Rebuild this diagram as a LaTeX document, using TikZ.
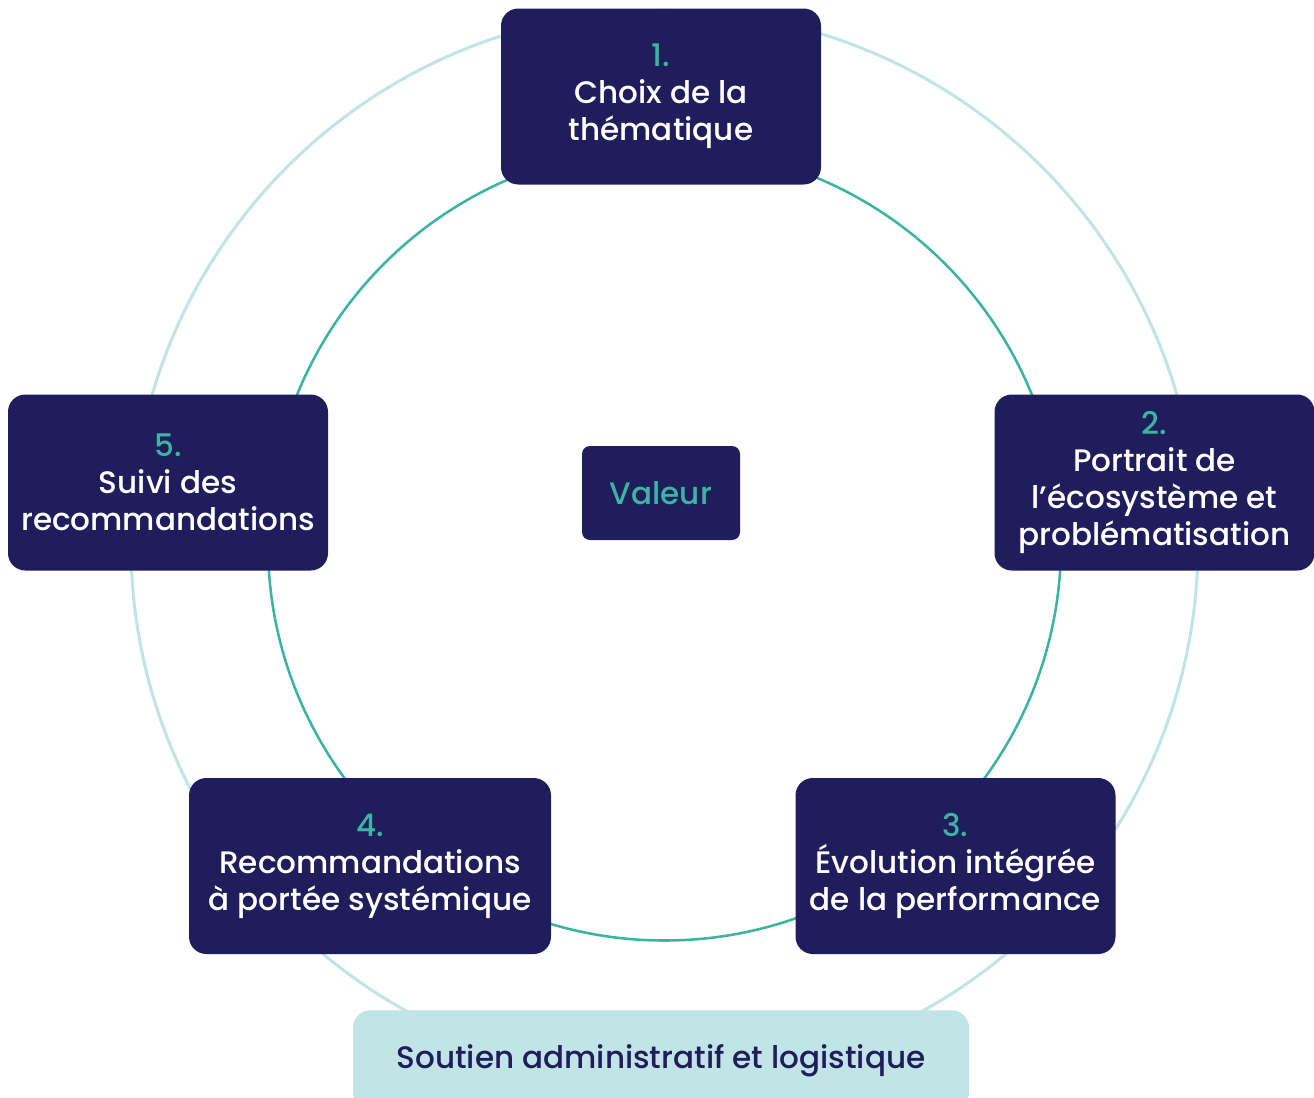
\documentclass[tikz,border=0pt]{standalone}
\usepackage{fontspec}
\setmainfont{Poppins}[UprightFont={* Medium}]
\definecolor{navy}{HTML}{1F1D5B}
\definecolor{tealc}{HTML}{3CB4A3}
\definecolor{lightc}{HTML}{C1E4E6}
\begin{document}
\begin{tikzpicture}[x=0.75pt,y=-0.75pt,
  stepbox/.style={fill=navy, rounded corners=13pt, minimum width=240pt, minimum height=132pt,
    text=white, align=center, font=\fontsize{23.3pt}{27.75pt}\selectfont, inner sep=0pt},
  num/.style={text=tealc}]
\useasboundingbox (0,0) rectangle (1314,1097);
\fill[white] (0,0) rectangle (1314,1097);
\coordinate (c) at (664.5,544);
\draw[lightc, line width=2.3pt] (c) circle[radius=533.5];
\draw[tealc, line width=1.9pt] (c) circle[radius=396.5];
\node[stepbox] (s1) at (661,96.5) {\textcolor{tealc}{1.}\\Choix de la\\thématique};
\node[stepbox] (s2) at (1154.5,482.5) {\textcolor{tealc}{2.}\\Portrait de\\l’écosystème et\\problématisation};
\node[stepbox] (s3) at (955.5,866) {\textcolor{tealc}{3.}\\Évolution intégrée\\de la performance};
\node[stepbox, minimum width=271.5pt] (s4) at (370,866) {\textcolor{tealc}{4.}\\Recommandations\\à portée systémique};
\node[stepbox] (s5) at (168,482.5) {\textcolor{tealc}{5.}\\Suivi des\\recommandations};
\node[fill=navy, rounded corners=6pt, minimum width=118.5pt, minimum height=70.5pt, inner sep=0pt,
  text=tealc, font=\fontsize{23.3pt}{24pt}\selectfont] (v) at (661,493) {Valeur};
\node[fill=lightc, rounded corners=13pt, minimum width=462pt, minimum height=75pt, inner sep=0pt,
  text=navy, font=\fontsize{23.3pt}{24pt}\selectfont, anchor=north] (b) at (661,1010) {\raisebox{3pt}{Soutien administratif et logistique}};
\end{tikzpicture}
\end{document}
